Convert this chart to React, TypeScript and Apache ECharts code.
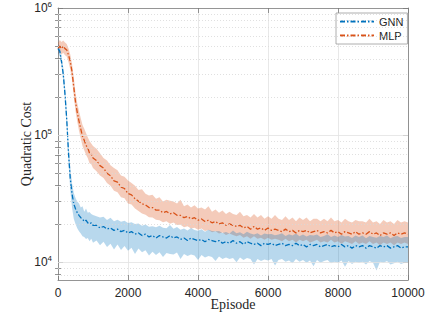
import React, { useEffect, useRef } from "react";
import * as echarts from "echarts";

// Episodes sampled (x positions)
const episodes: number[] = [];
for (let e = 0; e <= 1000; e += 50) episodes.push(e);
for (let e = 1100; e <= 10000; e += 100) episodes.push(e);

// Quadratic cost values in thousands
const gnnMeanK = [
  478, 457, 380, 302, 209, 132, 72.4, 45.7, 34.7, 28.8, 26.3, 24.5, 23.4, 22.4, 21.9, 20.9, 21.4, 20.4, 20.0, 20.4, 19.5,
  19.5, 18.6, 19.1, 18.2, 18.6, 17.8, 18.2, 17.4, 17.8, 17.0,
  17.4, 16.6, 17.0, 16.2, 16.6, 15.8, 16.2, 15.5, 16.2, 15.8,
  15.5, 16.2, 15.5, 15.8, 15.1, 15.5, 14.8, 15.5, 15.1, 14.8,
  15.1, 14.5, 15.1, 14.8, 14.5, 14.8, 14.1, 14.5, 14.1, 14.8,
  14.1, 14.5, 13.8, 14.5, 14.1, 13.8, 14.1, 13.5, 14.1, 13.8,
  14.1, 13.5, 13.8, 14.1, 13.5, 13.8, 13.5, 14.1, 13.5, 13.8,
  13.2, 13.8, 13.5, 13.8, 13.2, 13.5, 13.8, 13.2, 13.5, 13.2,
  13.8, 13.2, 13.5, 12.9, 13.5, 13.2, 13.5, 12.9, 13.5, 13.2,
  12.9, 13.5, 13.2, 13.5, 12.9, 13.2, 13.5, 12.9, 13.2, 13.2,
];
const gnnUpperK = [
  520, 500, 420, 340, 240, 155, 88, 56, 42, 35, 32, 30, 29, 27, 27.5, 25, 26.5, 24.5, 24.8, 24, 23.5,
  23, 22.5, 22.8, 21.5, 22.4, 21.0, 21.6, 20.8, 21.2, 20.3,
  20.6, 20.0, 20.2, 19.4, 19.8, 19.0, 19.2, 18.8, 19.4, 18.7,
  18.5, 19.6, 18.3, 18.9, 18.0, 18.4, 17.8, 18.6, 17.9, 17.7,
  18.2, 17.4, 18.0, 17.6, 17.5, 17.6, 17.0, 17.3, 16.8, 17.8,
  16.9, 17.2, 16.6, 17.4, 16.8, 16.5, 16.9, 16.2, 16.8, 16.6,
  16.7, 16.3, 16.5, 16.9, 16.1, 16.6, 16.2, 16.8, 16.0, 16.5,
  15.9, 16.4, 16.2, 16.5, 15.8, 16.1, 16.6, 15.8, 16.2, 15.8,
  16.4, 15.9, 16.1, 15.5, 16.2, 15.8, 16.2, 15.4, 16.1, 15.8,
  15.6, 16.1, 15.8, 16.2, 15.4, 15.9, 16.1, 15.5, 15.8, 15.8,
];
const gnnLowerK = [
  440, 420, 345, 270, 182, 112, 60, 37, 27, 22, 20, 18.5, 17.5, 16.8, 16.0, 15.8, 15.2, 15.5, 14.6, 15.3, 14.2,
  14.8, 13.6, 14.5, 13.2, 14.0, 12.6, 13.8, 12.5, 13.4, 12.3,
  13.0, 11.6, 12.8, 12.0, 12.4, 11.3, 12.1, 11.4, 12.0, 11.0,
  11.8, 11.6, 11.5, 11.9, 10.6, 11.6, 11.2, 11.5, 11.3, 10.4,
  11.4, 10.9, 11.2, 11.0, 10.2, 11.1, 10.6, 10.9, 10.6, 10.8,
  10.0, 10.9, 10.4, 10.8, 10.6, 9.6, 10.6, 10.2, 10.5, 10.3,
  10.6, 9.4, 10.4, 10.6, 10.1, 10.3, 9.8, 10.6, 10.1, 10.4,
  9.9, 10.3, 9.3, 10.4, 9.9, 10.2, 10.4, 9.8, 10.1, 9.9,
  10.3, 9.2, 10.2, 9.7, 10.1, 9.9, 10.1, 9.6, 10.2, 9.9,
  8.6, 10.1, 9.9, 10.2, 9.6, 9.8, 10.1, 9.7, 9.9, 9.9,
];

const mlpMeanK = [
  479, 501, 479, 501, 479, 468, 427, 380, 316, 240, 182, 151, 129, 112, 97.7, 91.2, 83.2, 79.4, 72.4, 70.8, 66.1,
  63.1, 57.5, 55.0, 50.1, 47.9, 43.7, 42.7, 38.9, 38.0, 34.7,
  33.9, 31.6, 30.2, 28.8, 28.2, 26.9, 26.9, 25.7, 25.7, 24.5,
  25.1, 24.0, 24.5, 23.4, 23.4, 22.4, 22.9, 21.9, 22.4, 21.4,
  21.9, 20.9, 21.4, 20.4, 20.9, 20.0, 20.4, 19.5, 20.0, 19.5,
  19.1, 19.5, 18.6, 19.1, 18.2, 19.1, 18.2, 18.6, 17.8, 18.6,
  17.8, 18.2, 17.8, 17.4, 18.2, 17.4, 17.8, 17.0, 17.8, 17.4,
  17.8, 17.0, 17.4, 17.8, 17.0, 17.4, 17.0, 17.8, 17.0, 17.4,
  16.6, 17.4, 17.0, 16.6, 17.4, 16.6, 17.0, 16.6, 17.4, 16.6,
  17.0, 16.2, 17.0, 16.6, 17.0, 16.2, 17.0, 16.6, 17.0, 16.6,
];
const mlpUpperK = [
  530, 560, 540, 555, 535, 520, 480, 430, 365, 285, 215, 178, 155, 136, 120, 112, 104, 96, 90, 86, 82,
  78, 72, 66, 63, 58, 55, 53, 48, 47, 44,
  42, 40, 37, 37.5, 34.5, 33.5, 34, 31.5, 32.5, 30,
  31, 30.5, 30, 29, 31, 27.5, 28.5, 27, 28, 26.5,
  27, 26, 27.5, 25, 26, 24.5, 25.5, 24, 25, 24,
  23.5, 25, 23, 23.5, 22.5, 24, 22.5, 23.5, 22, 23,
  22, 23.5, 22, 21.5, 23, 21.5, 22.5, 21, 22.5, 21.5,
  22.5, 21, 22, 22, 21, 22, 21, 22.5, 21, 21.5,
  20.5, 22, 21, 20.5, 21.5, 21, 21, 20.5, 22, 20.5,
  21, 20, 21.5, 20.5, 21, 20, 21.5, 20.5, 21, 20.5,
];
const mlpLowerK = [
  430, 450, 430, 445, 425, 415, 375, 330, 272, 205, 155, 128, 108, 94, 82, 76, 70, 66, 60, 59, 55,
  52, 48, 46, 42, 40, 36.5, 35.5, 32.5, 31.8, 29.0,
  28.4, 26.5, 25.3, 24.2, 23.6, 22.6, 22.5, 21.6, 21.4, 20.6,
  21.0, 20.1, 20.5, 19.6, 19.7, 18.8, 19.2, 18.4, 18.7, 18.0,
  18.4, 17.6, 17.9, 17.2, 17.5, 16.8, 17.1, 16.4, 16.8, 16.4,
  16.0, 16.4, 15.6, 16.0, 15.3, 16.0, 15.3, 15.6, 15.0, 15.6,
  15.0, 15.3, 15.0, 14.6, 15.3, 14.6, 15.0, 14.3, 15.0, 14.6,
  15.0, 14.3, 14.6, 15.0, 14.3, 14.6, 14.3, 15.0, 14.3, 14.6,
  13.9, 14.6, 14.3, 13.9, 14.6, 13.9, 14.3, 13.9, 14.6, 13.9,
  14.3, 13.6, 14.3, 13.9, 14.3, 13.6, 14.3, 13.9, 14.3, 13.9,
];

const seriesNames = ["GNN", "MLP"];
const yMajorExps = [4, 5, 6];
const xTickStep = 2000;

const Y_MIN = 3.86;
const Y_MAX = 6;

const lg = (k: number) => Math.log10(k * 1000);

const minorLogs: number[] = [];
for (let n = 3; n <= 5; n++) {
  for (let k = 2; k <= 9; k++) {
    const v = Math.log10(k * Math.pow(10, n));
    if (v > Y_MIN && v < Y_MAX) minorLogs.push(v);
  }
}

const AXIS_COLOR = "#7a7a7a";
const TEXT_COLOR = "#262626";
const BLUE = "#0072BD";
const ORANGE = "#D95319";

export default function App() {
  const ref = useRef<HTMLDivElement>(null);
  useEffect(() => {
    if (!ref.current) return;
    const chart = echarts.init(ref.current, undefined, { renderer: "svg" });

    const pairs = (arr: number[]) => episodes.map((e, i) => [e, lg(arr[i])]);

    const band = (name: string, up: number[], lo: number[], color: string) => ({
      name,
      type: "custom",
      silent: true,
      z: 2,
      data: [0],
      renderItem: (_params: any, api: any) => {
        const pts: number[][] = [];
        for (let i = 0; i < episodes.length; i++) pts.push(api.coord([episodes[i], lg(up[i])]));
        for (let i = episodes.length - 1; i >= 0; i--) pts.push(api.coord([episodes[i], lg(lo[i])]));
        return {
          type: "polygon",
          shape: { points: pts },
          style: { fill: color, stroke: "none" },
        };
      },
    });

    const yCommon = { type: "value", min: Y_MIN, max: Y_MAX, splitLine: { show: false } };

    chart.setOption({
      animation: false,
      grid: { left: 58, right: 31, top: 4, bottom: 35, containLabel: false },
      legend: {
        data: seriesNames,
        orient: "vertical",
        left: 336,
        top: 13,
        itemWidth: 34,
        itemHeight: 8,
        itemGap: 3,
        padding: [3, 4, 3, 3],
        borderColor: "#9a9a9a",
        borderWidth: 0.8,
        backgroundColor: "#ffffff",
        itemStyle: { opacity: 0 },
        textStyle: { fontSize: 11, color: TEXT_COLOR, fontFamily: "Liberation Sans" },
      },
      xAxis: [
        {
          type: "value",
          min: 0,
          max: 10000,
          interval: xTickStep,
          position: "bottom",
          axisLine: { show: true, onZero: false, lineStyle: { color: AXIS_COLOR, width: 0.8 } },
          axisTick: { show: true, inside: true, length: 5, lineStyle: { color: AXIS_COLOR, width: 0.8 } },
          axisLabel: {
            color: TEXT_COLOR,
            fontSize: 12,
            fontFamily: "Liberation Sans",
            margin: 7,
            formatter: (v: number) => String(v),
          },
          splitLine: { show: true, lineStyle: { color: "#e2e2e2", width: 0.8 } },
          name: "Episode",
          nameLocation: "middle",
          nameGap: 17,
          nameMoveOverlap: false,
          nameTextStyle: { fontFamily: "Liberation Serif", fontSize: 14, color: TEXT_COLOR },
        },
        {
          type: "value",
          min: 0,
          max: 10000,
          interval: xTickStep,
          position: "top",
          axisLine: { show: true, onZero: false, lineStyle: { color: AXIS_COLOR, width: 0.8 } },
          axisTick: { show: true, inside: true, length: 5, lineStyle: { color: AXIS_COLOR, width: 0.8 } },
          axisLabel: { show: false },
          splitLine: { show: false },
        },
      ],
      yAxis: [
        {
          ...yCommon,
          position: "left",
          axisLine: { show: true, onZero: false, lineStyle: { color: AXIS_COLOR, width: 0.8 } },
          axisTick: { show: true, inside: true, length: 5, customValues: yMajorExps, lineStyle: { color: AXIS_COLOR, width: 0.8 } },
          axisLabel: {
            customValues: yMajorExps,
            margin: 6,
            formatter: (v: number) => `{b|10}{e|${Math.round(v)}}`,
            rich: {
              b: { fontSize: 12, color: TEXT_COLOR, fontFamily: "Liberation Sans" },
              e: { fontSize: 8, color: TEXT_COLOR, fontFamily: "Liberation Sans", padding: [0, 0, 8, 0] },
            },
          },
          name: "Quadratic Cost",
          nameLocation: "middle",
          nameGap: 25,
          nameMoveOverlap: false,
          nameRotate: 90,
          nameTextStyle: { fontFamily: "Liberation Serif", fontSize: 14, color: TEXT_COLOR },
        },
        {
          ...yCommon,
          position: "left",
          axisLine: { show: false },
          axisTick: { show: true, inside: true, length: 3, customValues: minorLogs, lineStyle: { color: AXIS_COLOR, width: 0.8 } },
          axisLabel: { show: false },
        },
        {
          ...yCommon,
          position: "right",
          axisLine: { show: true, onZero: false, lineStyle: { color: AXIS_COLOR, width: 0.8 } },
          axisTick: { show: true, inside: true, length: 5, customValues: yMajorExps, lineStyle: { color: AXIS_COLOR, width: 0.8 } },
          axisLabel: { show: false },
        },
        {
          ...yCommon,
          position: "right",
          axisLine: { show: false },
          axisTick: { show: true, inside: true, length: 3, customValues: minorLogs, lineStyle: { color: AXIS_COLOR, width: 0.8 } },
          axisLabel: { show: false },
        },
      ],
      series: [
        {
          name: "grid",
          type: "line",
          data: [],
          silent: true,
          z: 1,
          markLine: {
            silent: true,
            symbol: "none",
            label: { show: false },
            animation: false,
            data: [
              ...yMajorExps.filter((v) => v < Y_MAX).map((v) => ({
                yAxis: v,
                lineStyle: { color: "#e2e2e2", type: "solid", width: 0.8 },
              })),
              ...minorLogs.map((v) => ({
                yAxis: v,
                lineStyle: { color: "#d8d8d8", type: [1, 2], width: 0.8 },
              })),
            ],
          },
        },
        band("mlpBand", mlpUpperK, mlpLowerK, "rgba(217,83,25,0.30)"),
        band("gnnBand", gnnUpperK, gnnLowerK, "rgba(0,114,189,0.28)"),
        {
          name: "MLP",
          type: "line",
          data: pairs(mlpMeanK),
          symbol: "none",
          color: ORANGE,
          lineStyle: { color: ORANGE, width: 1.3, type: [5, 2, 1.5, 2] },
          z: 3,
        },
        {
          name: "GNN",
          type: "line",
          data: pairs(gnnMeanK),
          symbol: "none",
          color: BLUE,
          lineStyle: { color: BLUE, width: 1.3, type: [5, 2, 1.5, 2] },
          z: 3,
        },
      ],
    });
    return () => chart.dispose();
  }, []);
  return (
    <div
      ref={ref}
      style={{ position: "fixed", left: 0, top: 0, width: 439, height: 316, background: "#fff" }}
    />
  );
}
